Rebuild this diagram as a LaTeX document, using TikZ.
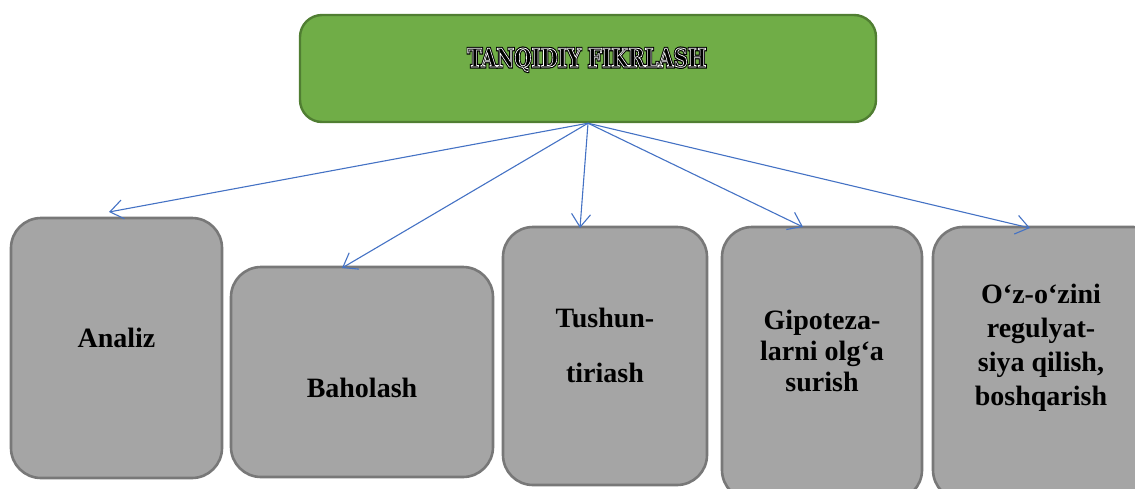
\documentclass[tikz,border=0pt]{standalone}
\usepackage{fontspec}
\setmainfont{Liberation Serif}
\newfontfamily\titlefont{DejaVu Serif}
\usetikzlibrary{arrows.meta}
\definecolor{topfill}{HTML}{70AD47}
\definecolor{topline}{HTML}{507E32}
\definecolor{boxfill}{HTML}{A5A5A5}
\definecolor{boxline}{HTML}{787878}
\definecolor{arrowblue}{HTML}{4472C4}
\newcommand\titletext{\titlefont\bfseries\fontsize{26}{30}\selectfont TANQIDIY FIKRLASH}
\newcommand\outlinetitle{%
  \rlap{\special{pdf:literal direct 2 Tr 3.2 w}\titletext\special{pdf:literal direct 0 Tr 1 w}}%
  \textcolor{white}{\special{pdf:literal direct 1 Tr 0.75 w}\titletext\special{pdf:literal direct 0 Tr 1 w}}}
\begin{document}
\begin{tikzpicture}[x=1pt,y=-1pt,
  topbox/.style={draw=topline, fill=topfill, line width=2.4pt, rounded corners=22pt, inner sep=0pt},
  gbox/.style={draw=boxline, fill=boxfill, line width=2.6pt, rounded corners=30pt, inner sep=0pt},
  lbl/.style={inner sep=0pt, align=center, font=\bfseries\fontsize{28}{34}\selectfont},
  link/.style={draw=arrowblue, line width=1.1pt, -{Straight Barb[length=13pt,width=19pt,line width=1.1pt]}}]
\useasboundingbox (0,0) rectangle (1135,488);
\clip (0,0) rectangle (1135,488);
% top box
\node[topbox, minimum width=576pt, minimum height=107pt] (top) at (588,68.5) {};
\node[inner sep=0pt, anchor=base] (title) at (587,67) {\resizebox{239pt}{19pt}{\outlinetitle}};
% bottom boxes
\node[gbox, minimum width=211pt, minimum height=260pt] (b1) at (116.5,348) {};
\node[gbox, minimum width=262pt, minimum height=210pt] (b2) at (362,372) {};
\node[gbox, minimum width=204pt, minimum height=258pt] (b3) at (605,356) {};
\node[gbox, minimum width=200pt, minimum height=273pt] (b4) at (822,363.5) {};
\node[gbox, minimum width=230pt, minimum height=273pt] (b5) at (1048,363.5) {};
% labels
\node[lbl, anchor=base] (t1) at (116.5,347) {Analiz};
\node[lbl, anchor=base] (t2) at (362,397) {Baholash};
\node[lbl] (t3) at (605,345.5) {Tushun-\\[21pt]tiriash};
\node[lbl, font=\bfseries\fontsize{28}{31}\selectfont] (t4) at (822,351) {Gipoteza-\\larni olg‘a\\surish};
\node[lbl] (t5) at (1041,347.5) {O‘z-o‘zini\\regulyat-\\siya qilish,\\boshqarish};
% arrow end points
\coordinate (e1) at (109,212);
\coordinate (e2) at (342,268);
\coordinate (e3) at (580,228);
\coordinate (e4) at (803,227);
\coordinate (e5) at (1030,228);
\draw[link] (top.south) -- (e1);
\draw[link] (top.south) -- (e2);
\draw[link] (top.south) -- (e3);
\draw[link] (top.south) -- (e4);
\draw[link] (top.south) -- (e5);
\end{tikzpicture}
\end{document}
